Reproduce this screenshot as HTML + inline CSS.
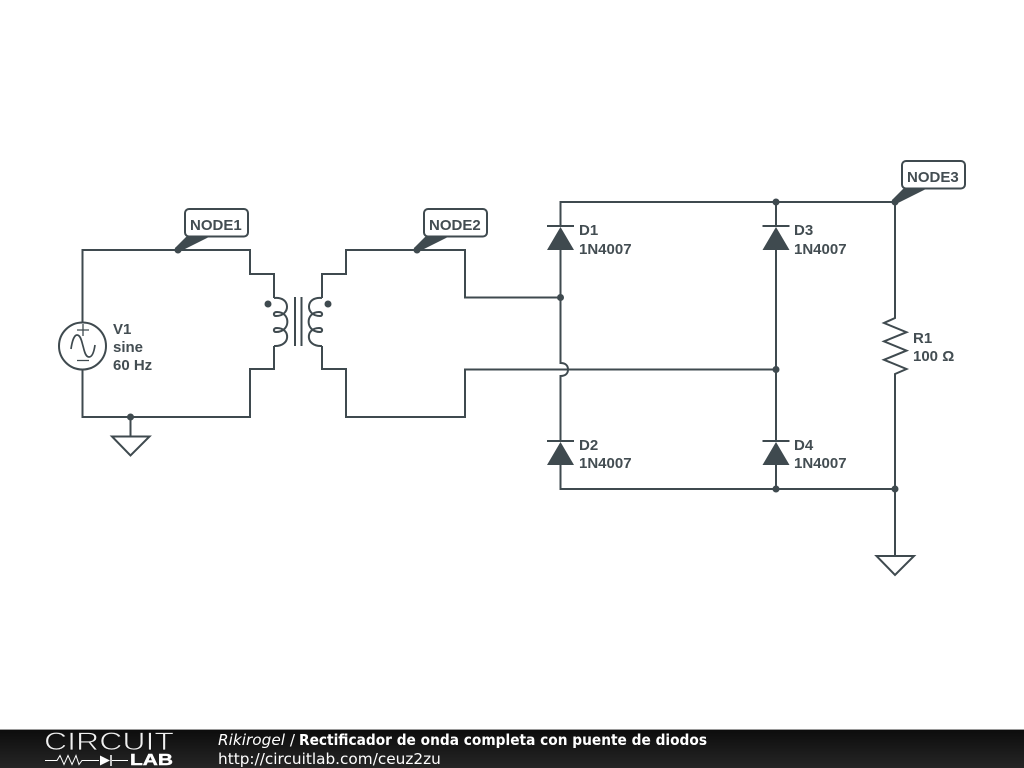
<!DOCTYPE html>
<html>
<head>
<meta charset="utf-8">
<style>
html,body{margin:0;padding:0;background:#fff;width:1024px;height:768px;overflow:hidden}
svg{display:block}
.w{fill:none;stroke:#3f4a4f;stroke-width:2}
.t{font-family:"Liberation Sans",sans-serif;font-weight:bold;font-size:15px;fill:#434d52}
.f{font-family:"DejaVu Sans",sans-serif;font-size:15.3px;fill:#fff}
</style>
</head>
<body>
<svg width="1024" height="768" viewBox="0 0 1024 768" xmlns="http://www.w3.org/2000/svg">
<defs>
<linearGradient id="g" x1="0" y1="0" x2="0" y2="1">
<stop offset="0" stop-color="#0c0c0c"/><stop offset="1" stop-color="#262626"/>
</linearGradient>
</defs>
<rect width="1024" height="768" fill="#fff"/>

<!-- primary loop -->
<path class="w" d="M82.5 322V250H250V274H274V298M274 346V369H250V417H82.5V370"/>
<path class="w" d="M130.500 417V436"/>
<path class="w" d="M112 436.500H149.500L130.500 455.500Z"/>
<circle cx="130.500" cy="417" r="3.500" fill="#3f4a4f"/>
<circle cx="178" cy="250" r="3.500" fill="#3f4a4f"/>

<!-- source -->
<circle class="w" cx="82.500" cy="346" r="23.500"/>
<path class="w" d="M71 349C72 342 74 335 77 335C81 335 82 343 83 346C84 349 85 357 89 357C92 357 94 352 95 345" style="stroke-width:1.700"/>
<path class="w" d="M77 330H89M83 324V336M77 360.500H89" style="stroke-width:1.300"/>

<!-- transformer -->
<path class="w" d="M274 298C291 296 291 316 276 316C273 316 273 312 277 312C291 312 291 332 276 332C273 332 273 328 277 328C291 328 291 347 274 346"/>
<path class="w" d="M322 298C305 296 305 316 320 316C323 316 323 312 319 312C305 312 305 332 320 332C323 332 323 328 319 328C305 328 305 347 322 346"/>
<path class="w" d="M295 297V346M301.500 297V346"/>
<circle cx="268" cy="304" r="3.500" fill="#3f4a4f"/>
<circle cx="328" cy="304" r="3.500" fill="#3f4a4f"/>

<!-- secondary -->
<path class="w" d="M322 298V274H346V250H465V297.500H560.500"/>
<path class="w" d="M322 346V369H346V417H465V369.500H776"/>
<circle cx="417" cy="250" r="3.500" fill="#3f4a4f"/>

<!-- bridge -->
<path class="w" d="M560.500 226V202H895M560.500 250V363C566 363 568 366 568 369.500C568 373 566 376 560.500 376V441M560.500 465V489H895"/>
<path class="w" d="M776 202V226M776 250V441M776 465V489"/>
<path class="w" d="M547 226H574M547 441H574M762.500 226H789.500M762.500 441H789.500"/>
<path d="M560.500 227L574 250H547Z M560.500 442L574 465H547Z M776 227L789.500 250H762.500Z M776 442L789.500 465H762.500Z" fill="#3f4a4f"/>
<circle cx="560.500" cy="297.500" r="3.500" fill="#3f4a4f"/>
<circle cx="776" cy="202" r="3.500" fill="#3f4a4f"/>
<circle cx="776" cy="369.500" r="3.500" fill="#3f4a4f"/>
<circle cx="776" cy="489" r="3.500" fill="#3f4a4f"/>
<circle cx="895" cy="202" r="3.500" fill="#3f4a4f"/>
<circle cx="895" cy="489" r="3.500" fill="#3f4a4f"/>

<!-- R1 -->
<path class="w" d="M895 202V318L884 323L906.500 332.200L884 341.400L906.500 350.600L884 359.800L906.500 369L895 374V556"/>
<path class="w" d="M876.500 556H914L895 575Z"/>

<!-- node flags -->
<path d="M175 248L188 235H213L180 251.500Z" fill="#3f4a4f"/>
<rect x="185" y="209" width="63" height="27.500" rx="4" fill="#fff" stroke="#3f4a4f" stroke-width="2"/>
<text class="t" x="190" y="230">NODE1</text>
<path d="M414 248L427 235H452L419 251.500Z" fill="#3f4a4f"/>
<rect x="424" y="209" width="63" height="27.500" rx="4" fill="#fff" stroke="#3f4a4f" stroke-width="2"/>
<text class="t" x="429" y="230">NODE2</text>
<path d="M892 200L905 187H930L897 203.500Z" fill="#3f4a4f"/>
<rect x="902" y="161" width="63" height="27.500" rx="4" fill="#fff" stroke="#3f4a4f" stroke-width="2"/>
<text class="t" x="907" y="182">NODE3</text>

<!-- labels -->
<text class="t" x="113" y="334">V1</text>
<text class="t" x="113" y="352">sine</text>
<text class="t" x="113" y="370">60 Hz</text>
<text class="t" x="579" y="235">D1</text>
<text class="t" x="579" y="254">1N4007</text>
<text class="t" x="794" y="235">D3</text>
<text class="t" x="794" y="254">1N4007</text>
<text class="t" x="579" y="450">D2</text>
<text class="t" x="579" y="468">1N4007</text>
<text class="t" x="794" y="450">D4</text>
<text class="t" x="794" y="468">1N4007</text>
<text class="t" x="913" y="343">R1</text>
<text class="t" x="913" y="361">100 Ω</text>

<!-- footer -->
<rect x="0" y="729" width="1024" height="39" fill="url(#g)"/>
<rect x="0" y="729" width="1024" height="1" fill="#9a9a9a"/>
<text x="44" y="750" font-family="'Liberation Sans',sans-serif" font-size="25" fill="#f0f0f0" stroke="#121212" stroke-width="0.7" textLength="130" lengthAdjust="spacingAndGlyphs">CIRCUIT</text>
<path d="M45 760.500H57L60 755.500L64 764.500L68 755.500L72 764.500L76 755.500L79 764.500L82 760.500H99M112 760.500H128" fill="none" stroke="#fff" stroke-width="1"/>
<path d="M100 755.500L110 760.500L100 765.500Z" fill="#fff"/>
<path d="M111 755V766" stroke="#fff" stroke-width="1.500"/>
<text x="130" y="765" font-family="'Liberation Sans',sans-serif" font-weight="bold" font-size="15.500" fill="#fff" stroke="#fff" stroke-width="0.400" textLength="43" lengthAdjust="spacingAndGlyphs">LAB</text>
<text class="f" x="218" y="745" font-style="italic">Rikirogel <tspan font-style="normal">/</tspan></text>
<text class="f" x="299" y="745" font-weight="bold" textLength="408" lengthAdjust="spacingAndGlyphs">Rectificador de onda completa con puente de diodos</text>
<text class="f" x="218" y="764">http://circuitlab.com/ceuz2zu</text>
</svg>
</body>
</html>
